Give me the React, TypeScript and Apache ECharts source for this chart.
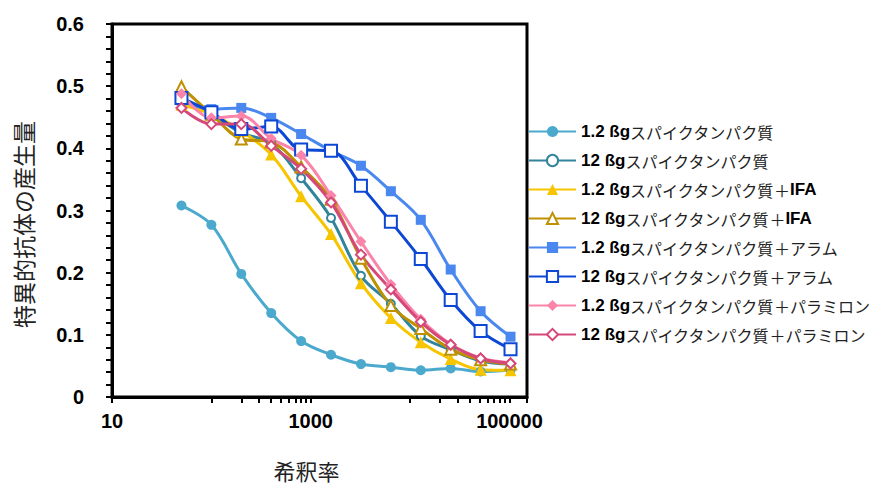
import React, { useEffect, useRef } from "react";
import * as echarts from "echarts";

// dilution factors (x)
const dilution = [50, 100, 200, 400, 800, 1600, 3200, 6400, 12800, 25600, 51200, 102400];

const seriesNames = [
  "1.2 ßgスパイクタンパク質",
  "12 ßgスパイクタンパク質",
  "1.2 ßgスパイクタンパク質＋IFA",
  "12 ßgスパイクタンパク質＋IFA",
  "1.2 ßgスパイクタンパク質＋アラム",
  "12 ßgスパイクタンパク質＋アラム",
  "1.2 ßgスパイクタンパク質＋パラミロン",
  "12 ßgスパイクタンパク質＋パラミロン",
];

const spike1 = [0.308, 0.277, 0.198, 0.135, 0.090, 0.068, 0.053, 0.048, 0.043, 0.046, 0.041, 0.043];
const spike12 = [0.478, 0.455, 0.425, 0.408, 0.352, 0.288, 0.195, 0.150, 0.098, 0.076, 0.058, 0.053];
const ifa1 = [0.470, 0.455, 0.428, 0.390, 0.323, 0.262, 0.183, 0.127, 0.088, 0.061, 0.044, 0.043];
const ifa12 = [0.499, 0.455, 0.415, 0.410, 0.370, 0.318, 0.223, 0.147, 0.110, 0.077, 0.060, 0.053];
const alum1 = [0.477, 0.463, 0.465, 0.449, 0.423, 0.396, 0.372, 0.331, 0.285, 0.205, 0.138, 0.097];
const alum12 = [0.481, 0.458, 0.431, 0.435, 0.398, 0.396, 0.340, 0.282, 0.222, 0.156, 0.106, 0.077];
const para1 = [0.488, 0.449, 0.452, 0.416, 0.389, 0.324, 0.250, 0.181, 0.125, 0.085, 0.063, 0.055];
const para12 = [0.465, 0.439, 0.439, 0.404, 0.367, 0.313, 0.229, 0.173, 0.121, 0.084, 0.062, 0.054];

const allValues = [spike1, spike12, ifa1, ifa12, alum1, alum12, para1, para12];
const colors = ["#4aa9cc", "#31849b", "#f7c500", "#bf9000", "#4a88f0", "#0d48d4", "#fb84aa", "#d5487a"];
const symbols = ["circle", "emptyCircle", "triangle", "emptyTriangle", "rect", "emptyRect", "diamond", "emptyDiamond"];
const symbolSizes = [10, 8, 12, 11, 10, 12, 11, 10];

const xLabelsShown = [10, 1000, 100000];
const xMinorTicks = [200, 300, 400, 500, 600, 700, 800, 900, 20000, 30000, 40000, 50000, 60000, 70000, 80000, 90000];

const X_MIN = 10;
const X_MAX = 150000;

function richName(name: string): string {
  const m = name.match(/^([\d.]+ ßg)(.*?)(＋)?(IFA|アラム|パラミロン)?$/);
  if (!m) return name;
  let s = `{b|${m[1]}}{n|${m[2]}}`;
  if (m[3]) s += `{n|${m[3]}}`;
  if (m[4]) s += m[4] === "IFA" ? `{b|${m[4]}}` : `{n|${m[4]}}`;
  return s;
}

export default function App() {
  const ref = useRef<HTMLDivElement>(null);
  useEffect(() => {
    document.body.style.margin = "0";
    const chart = echarts.init(ref.current!, null, { renderer: "svg" });
    const series = allValues.map((vals, i) => {
      const empty = symbols[i].startsWith("empty");
      return {
        name: seriesNames[i],
        type: "line",
        xAxisIndex: 0,
        data: dilution.map((d, j) => [d, vals[j]]),
        smooth: 0.35,
        symbol: symbols[i],
        symbolSize: symbolSizes[i],
        showSymbol: true,
        lineStyle: { color: colors[i], width: 3, type: "solid" },
        itemStyle: {
          color: colors[i],
          borderColor: colors[i],
          borderWidth: empty ? 2 : 0,
        },
        emphasis: { disabled: true },
      };
    });
    chart.setOption({
      animation: false,
      color: colors,
      grid: {
        left: 112,
        right: 357,
        top: 24,
        bottom: 86,
        show: true,
        borderColor: "#000",
        borderWidth: 3,
        containLabel: false,
      },
      legend: {
        orient: "vertical",
        left: 528,
        top: 123,
        padding: 0,
        itemWidth: 47,
        itemHeight: 14,
        itemGap: 12,
        textStyle: {
          color: "#111",
          fontSize: 16,
          lineHeight: 16,
          rich: {
            b: { fontFamily: "Liberation Sans", fontWeight: "bold", fontSize: 17, lineHeight: 16, color: "#000" },
            n: { fontFamily: "Noto Sans CJK JP", fontWeight: "normal", fontSize: 16, lineHeight: 16, color: "#222" },
          },
        },
        formatter: (name: string) => richName(name),
        data: seriesNames,
      },
      xAxis: [
        {
          type: "log",
          logBase: 10,
          min: X_MIN,
          max: X_MAX,
          interval: 1,
          name: "希釈率",
          nameLocation: "middle",
          nameGap: 62,
          nameTextStyle: {
            fontFamily: "Noto Sans CJK JP",
            fontSize: 22,
            color: "#222",
            padding: [0, 26, 0, 0],
          },
          axisLine: { show: true, lineStyle: { color: "#000", width: 3 } },
          axisTick: { show: true, length: 6, lineStyle: { color: "#000", width: 2 } },
          axisLabel: {
            fontFamily: "Liberation Sans",
            fontWeight: "bold",
            fontSize: 20,
            color: "#000",
            margin: 14,
            showMinLabel: true,
            showMaxLabel: true,
            formatter: (v: number) => {
              const r = Math.round(v);
              return xLabelsShown.some((x) => Math.abs(x - r) / x < 1e-6) ? String(r) : "";
            },
          },
          splitLine: { show: false },
        },
        {
          type: "value",
          min: Math.log10(X_MIN),
          max: Math.log10(X_MAX),
          position: "bottom",
          axisLine: { show: false },
          axisLabel: { show: false },
          splitLine: { show: false },
          axisTick: {
            show: true,
            length: 6,
            customValues: xMinorTicks.map((t) => Math.log10(t)),
            lineStyle: { color: "#000", width: 2 },
          },
        },
      ],
      yAxis: {
        type: "value",
        min: 0,
        max: 0.6,
        interval: 0.1,
        name: "特異的抗体の産生量",
        nameLocation: "middle",
        nameRotate: 90,
        nameGap: 78,
        nameTextStyle: {
          fontFamily: "Noto Sans CJK JP",
          fontSize: 23,
          color: "#222",
          padding: [0, 28, 0, 0],
        },
        axisLine: { show: true, lineStyle: { color: "#000", width: 3 } },
        axisTick: { show: true, length: 6, lineStyle: { color: "#000", width: 2 } },
        minorTick: { show: true, splitNumber: 5, length: 6, lineStyle: { color: "#000", width: 2 } },
        axisLabel: {
          fontFamily: "Liberation Sans",
          fontWeight: "bold",
          fontSize: 20,
          color: "#000",
          margin: 28,
        },
        splitLine: { show: false },
        minorSplitLine: { show: false },
      },
      series,
    });
    return () => chart.dispose();
  }, []);
  return (
    <div
      ref={ref}
      style={{ position: "fixed", left: 0, top: 0, width: 884, height: 486, background: "#fff" }}
    />
  );
}
